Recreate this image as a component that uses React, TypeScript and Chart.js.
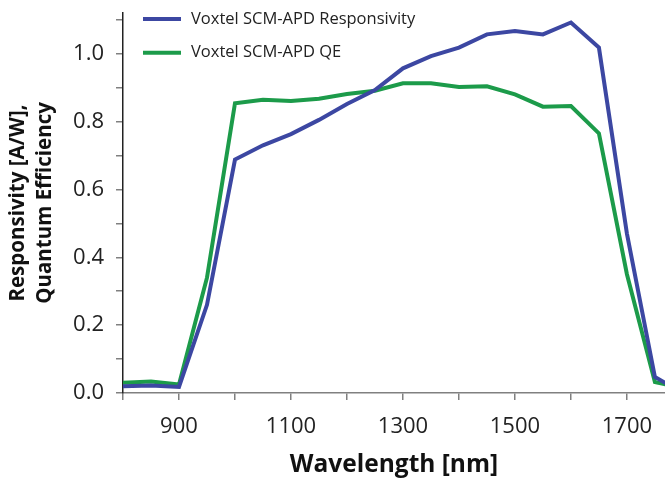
import React, { useEffect, useRef } from "react";
import { Chart, registerables } from "chart.js";

Chart.register(...registerables);

const wavelengths = [800, 850, 900, 950, 1000, 1050, 1100, 1150, 1200, 1250, 1300, 1350, 1400, 1450, 1500, 1550, 1600, 1650, 1700, 1750, 1800];
const responsivity = [0.02, 0.022, 0.018, 0.26, 0.688, 0.73, 0.763, 0.805, 0.852, 0.893, 0.957, 0.993, 1.018, 1.057, 1.067, 1.057, 1.092, 1.018, 0.47, 0.047, 0.0];
const quantumEff = [0.03, 0.034, 0.025, 0.34, 0.854, 0.864, 0.861, 0.867, 0.881, 0.891, 0.913, 0.913, 0.902, 0.904, 0.88, 0.844, 0.846, 0.765, 0.35, 0.032, 0.015];
const seriesLabels = ["Voxtel SCM-APD Responsivity", "Voxtel SCM-APD QE"];
const seriesColors = ["#3c47a2", "#1c9b4a"];
const xTicks = [800, 900, 1000, 1100, 1200, 1300, 1400, 1500, 1600, 1700];
const xLabelled = [900, 1100, 1300, 1500, 1700];
const yTicks = [0, 0.1, 0.2, 0.3, 0.4, 0.5, 0.6, 0.7, 0.8, 0.9, 1.0, 1.1];
const yLabelled = [0, 0.2, 0.4, 0.6, 0.8, 1.0];

const FONT = "'Open Sans', 'DejaVu Sans', sans-serif";

const legendPlugin = {
  id: "innerLegend",
  afterDatasetsDraw(chart: any) {
    const ctx = chart.ctx;
    ctx.save();
    chart.data.datasets.forEach((ds: any, i: number) => {
      const y = 19 + i * 33.7;
      ctx.strokeStyle = ds.borderColor;
      ctx.lineWidth = 4;
      ctx.beginPath();
      ctx.moveTo(143, y);
      ctx.lineTo(181, y);
      ctx.stroke();
      ctx.fillStyle = "#222";
      ctx.font = `16.5px ${FONT}`;
      ctx.textBaseline = "middle";
      ctx.textAlign = "left";
      ctx.fillText(ds.label, 191, y);
    });
    ctx.restore();
  },
};

export default function App() {
  const ref = useRef<HTMLCanvasElement>(null);
  useEffect(() => {
    if (!ref.current) return;
    const chart = new Chart(ref.current, {
      type: "line",
      data: {
        datasets: [responsivity, quantumEff].map((vals, i) => ({
          label: seriesLabels[i],
          data: wavelengths.map((w, j) => ({ x: w, y: vals[j] })),
          borderColor: seriesColors[i],
          backgroundColor: seriesColors[i],
          borderWidth: 4,
          pointRadius: 0,
          tension: 0,
          borderJoinStyle: "miter" as const,
        })),
      },
      options: {
        responsive: false,
        animation: false,
        layout: { padding: { top: 13, right: 0, left: 0, bottom: 0 } },
        plugins: { legend: { display: false }, tooltip: { enabled: false } },
        scales: {
          x: {
            type: "linear",
            min: 800,
            max: 1768,
            afterBuildTicks: (s: any) => {
              s.ticks = xTicks.map((v) => ({ value: v }));
            },
            afterFit: (s: any) => {
              s.height = 90;
              s.paddingLeft = 0;
              s.paddingRight = 0;
            },
            ticks: {
              autoSkip: false,
              maxRotation: 0,
              padding: 14,
              color: "#222",
              font: { family: FONT, size: 22 },
              callback: (v: any) => (xLabelled.includes(v) ? String(v) : ""),
            },
            grid: { drawOnChartArea: false, drawTicks: true, tickLength: 7, color: "#808080", lineWidth: 1.5 },
            border: { display: true, color: "#808080", width: 1.5 },
            title: {
              display: true,
              text: "Wavelength [nm]",
              color: "#111",
              font: { family: FONT, size: 24.5, weight: "bold", lineHeight: 1.2 },
              padding: { top: 0, bottom: 3 },
            },
          },
          y: {
            type: "linear",
            min: 0,
            max: 1.12,
            afterBuildTicks: (s: any) => {
              s.ticks = yTicks.map((v) => ({ value: v }));
            },
            afterFit: (s: any) => {
              s.width = 123;
              s.paddingTop = 0;
              s.paddingBottom = 0;
            },
            ticks: {
              autoSkip: false,
              padding: 12,
              color: "#222",
              font: { family: FONT, size: 22 },
              callback: (v: any) => (yLabelled.some((t) => Math.abs(t - v) < 1e-6) ? Number(v).toFixed(1) : ""),
            },
            grid: { drawOnChartArea: false, drawTicks: true, tickLength: 7, color: "#808080", lineWidth: 1.5 },
            border: { display: true, color: "#222", width: 1.5 },
            title: {
              display: true,
              text: ["Responsivity [A/W],", "Quantum Efficiency"],
              color: "#111",
              font: { family: FONT, size: 20.5, weight: "bold", lineHeight: 1.29 },
              padding: { top: 5, bottom: 0 },
            },
          },
        },
      },
      plugins: [legendPlugin],
    });
    return () => chart.destroy();
  }, []);
  return (
    <div style={{ position: "fixed", left: 0, top: 0, width: 665, height: 483, background: "#fff" }}>
      <canvas ref={ref} width={665} height={483} style={{ width: 665, height: 483 }} />
    </div>
  );
}
